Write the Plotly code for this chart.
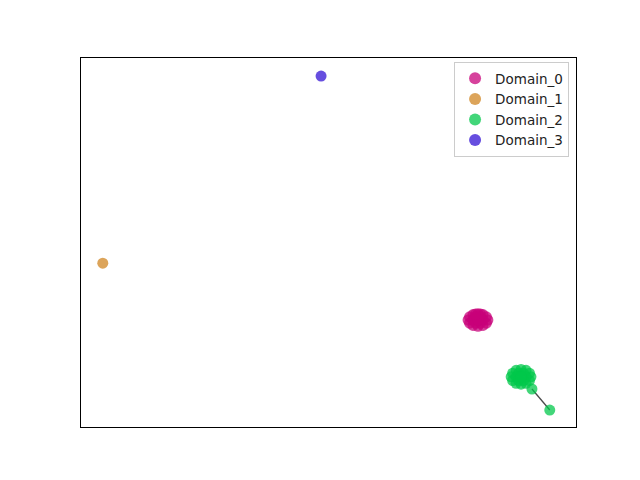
import plotly.graph_objects as go

names = ["Domain_0", "Domain_1", "Domain_2", "Domain_3"]
colors = ["#c8007a", "#d08420", "#00c84a", "#3010d4"]

d0_x = [82.2, 81.9, 81.2, 80.2, 79.2, 78.5, 78.2, 78.5, 79.2, 80.2, 81.2, 81.9,
        81.2, 80.7, 79.7, 79.2, 79.7, 80.7, 80.2, 80.7, 79.7]
d0_y = [29.0, 29.85, 30.47, 30.7, 30.47, 29.85, 29.0, 28.15, 27.53, 27.3, 27.53, 28.15,
        29.0, 29.85, 29.85, 29.0, 28.15, 28.15, 29.0, 30.6, 30.6]

d1_x = [4.4]
d1_y = [44.4]

d2_x = [90.9, 90.6, 89.9, 88.9, 87.9, 87.2, 86.9, 87.2, 87.9, 88.9, 89.9, 90.6,
        89.9, 89.4, 88.4, 87.9, 88.4, 89.4, 88.9, 91.1, 94.7]
d2_y = [13.6, 14.6, 15.35, 15.6, 15.35, 14.6, 13.6, 12.6, 11.85, 11.6, 11.85, 12.6,
        13.6, 14.6, 14.6, 13.6, 12.6, 12.6, 13.6, 10.3, 4.6]

d3_x = [48.5]
d3_y = [95.1]

link_x = [91.1, 94.7]
link_y = [10.3, 4.6]

xs = [d0_x, d1_x, d2_x, d3_x]
ys = [d0_y, d1_y, d2_y, d3_y]

fig = go.Figure()
fig.add_trace(go.Scatter(x=link_x, y=link_y, mode="lines",
                         line=dict(color="#4a4a4a", width=1.3),
                         showlegend=False, hoverinfo="skip"))
for n, c, x, y in zip(names, colors, xs, ys):
    fig.add_trace(go.Scatter(x=x, y=y, mode="markers", name=n,
                             marker=dict(color=c, size=11, opacity=0.74,
                                         line=dict(width=0))))

fig.update_layout(
    width=640, height=480,
    margin=dict(l=73, r=72, t=50, b=61),
    paper_bgcolor="white", plot_bgcolor="white",
    font=dict(family="DejaVu Sans", size=13, color="#222222"),
    legend=dict(x=0.986, y=0.989, xanchor="right", yanchor="top",
                bgcolor="rgba(255,255,255,0.8)", bordercolor="#cccccc",
                borderwidth=1, font=dict(size=13.5), itemsizing="constant",
                tracegroupgap=0),
    xaxis=dict(range=[0, 100], showticklabels=False, ticks="", showgrid=False,
               zeroline=False, showline=True, linecolor="black", linewidth=1,
               mirror=True),
    yaxis=dict(range=[0, 100], showticklabels=False, ticks="", showgrid=False,
               zeroline=False, showline=True, linecolor="black", linewidth=1,
               mirror=True),
)
fig.write_html("out.html")
